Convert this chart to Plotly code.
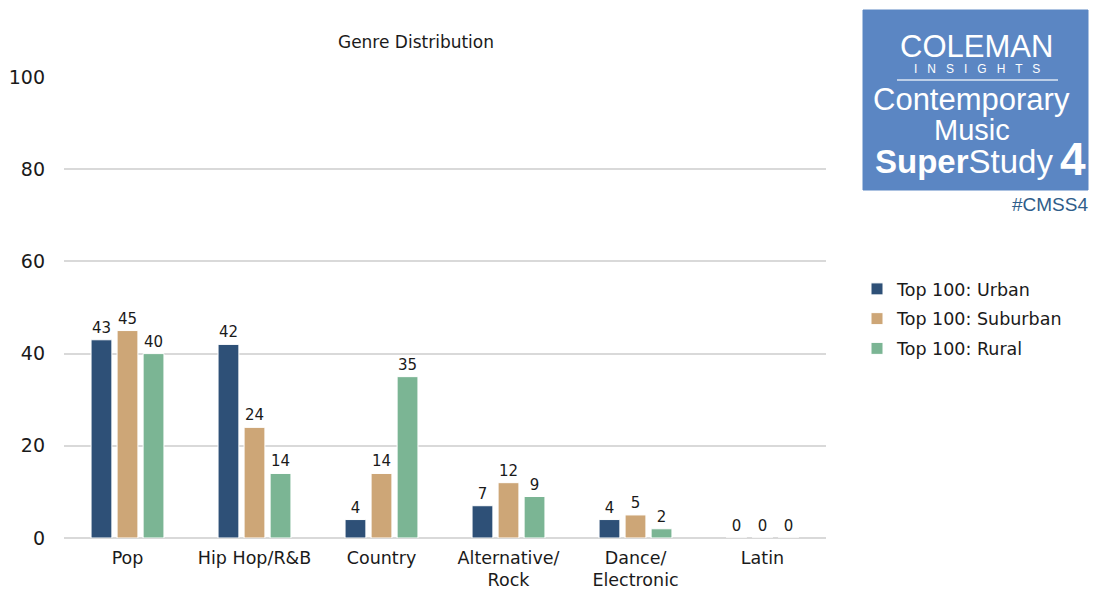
import plotly.graph_objects as go

categories = ["Pop", "Hip Hop/R&B", "Country", "Alternative/<br>Rock", "Dance/<br>Electronic", "Latin"]
series_names = ["Top 100: Urban", "Top 100: Suburban", "Top 100: Rural"]
urban = [43, 42, 4, 7, 4, 0]
suburban = [45, 24, 14, 12, 5, 0]
rural = [40, 14, 35, 9, 2, 0]
colors = ["#2E5077", "#CDA677", "#7BB594"]
y_ticks = [0, 20, 40, 60, 80, 100]

FONT = "Century Gothic, DejaVu Sans, sans-serif"
W, H = 1093, 593
L, T = 64, 77
R = W - 826
B = H - 538
pw, ph = W - L - R, H - T - B

def px(x):
    return (x - L) / pw

def py(y):
    return (H - B - y) / ph

fig = go.Figure()
for name, vals, col in zip(series_names, [urban, suburban, rural], colors):
    fig.add_trace(go.Bar(
        x=categories, y=vals, name=name, legendgroup=name,
        marker=dict(color=col, line=dict(color="white", width=1)),
        text=[str(v) for v in vals], textposition="outside",
        textfont=dict(family=FONT, size=15, color="#1a1a1a"),
        cliponaxis=False,
    ))

fig.update_layout(
    width=W, height=H,
    margin=dict(l=L, r=R, t=T, b=B, autoexpand=False),
    paper_bgcolor="white", plot_bgcolor="white",
    barmode="group", bargap=0.385, bargroupgap=0.2,
    font=dict(family=FONT, size=16, color="#1a1a1a"),
    title=dict(text="Genre Distribution", x=416 / W, xanchor="center",
               y=1 - 42 / H, yanchor="middle", yref="container",
               font=dict(family=FONT, size=17, color="#1a1a1a")),
    showlegend=True,
    legend=dict(x=px(857), y=py(271), xanchor="left", yanchor="top",
                font=dict(family=FONT, size=17.5, color="#1a1a1a"),
                tracegroupgap=4, bgcolor="rgba(0,0,0,0)"),
    xaxis=dict(showgrid=False, showline=False, ticks="", ticklabelstandoff=7,
               automargin=False,
               tickfont=dict(family=FONT, size=17.5, color="#1a1a1a")),
    yaxis=dict(range=[0, 100], tickvals=y_ticks, showgrid=True,
               gridcolor="#D9D9D9", gridwidth=1.5, zeroline=True,
               zerolinecolor="#D9D9D9", zerolinewidth=1.5, showline=False,
               ticks="", ticklabelstandoff=18, automargin=False,
               tickfont=dict(family=FONT, size=19, color="#1a1a1a")),
)

# Logo box
fig.add_shape(type="rect", xref="paper", yref="paper",
              x0=px(863), x1=px(1088), y0=py(190), y1=py(10),
              fillcolor="#5B86C3", line=dict(color="#5B86C3", width=1), layer="above")
fig.add_shape(type="line", xref="paper", yref="paper",
              x0=px(897), x1=px(1058), y0=py(80), y1=py(80),
              line=dict(color="#DDE6F3", width=1.5), layer="above")

LOGO = "Liberation Sans, Arial, sans-serif"
def ann(text, x, y, size, xanchor="center", color="white", family=LOGO, weight=None):
    f = dict(family=family, size=size, color=color)
    if weight is not None:
        f["weight"] = weight
    fig.add_annotation(text=text, xref="paper", yref="paper", x=px(x), y=py(y),
                       xanchor=xanchor, yanchor="middle", showarrow=False, font=f)

ann("COLEMAN", 976, 46, 31, weight=300)
ann("I   N   S   I   G   H   T   S", 977, 69, 12)
ann("Contemporary", 971, 99, 31)
ann("Music", 972, 130, 29)
ann("<b>Super</b>Study", 964, 161, 33)
ann("<b>4</b>", 1073, 159, 46)
ann("#CMSS4", 1090, 205, 19, xanchor="right", color="#2F5D8A")

fig.write_html(
    "out.html",
    config={"displayModeBar": False},
    post_script="document.body.style.margin='0';document.body.style.overflow='hidden';",
)
